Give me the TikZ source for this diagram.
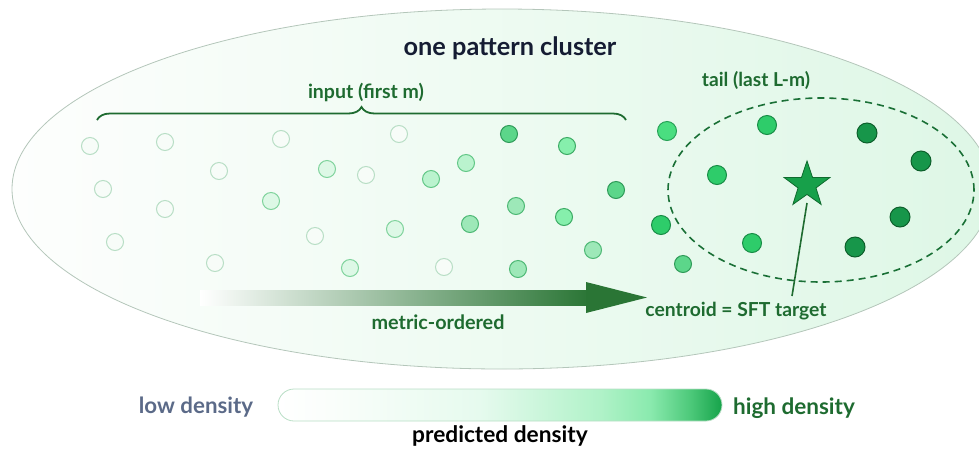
\documentclass[tikz,border=0pt]{standalone}
\usepackage{fontspec}
\setmainfont{Lato}
\usetikzlibrary{shapes.geometric,decorations.pathreplacing}
\definecolor{dkgreen}{HTML}{1E6B30}
\definecolor{navy}{HTML}{151C33}
\definecolor{slate}{HTML}{5B6A88}
\definecolor{ellstroke}{HTML}{B4C6BA}
\definecolor{ellL}{HTML}{FDFEFD}
\definecolor{ellR}{HTML}{DEF7E6}
\definecolor{arrowdk}{HTML}{2A7535}
\definecolor{barA}{HTML}{FAFEFB}
\definecolor{barB}{HTML}{E6FAEE}
\definecolor{barC}{HTML}{B0F2C8}
\definecolor{barD}{HTML}{8AEAAE}
\definecolor{barE}{HTML}{4DC97A}
\definecolor{barF}{HTML}{16A34A}
\pgfdeclarehorizontalshading{densbar}{100bp}{
  color(0bp)=(white); color(25bp)=(white); color(31bp)=(barA);
  color(47.7bp)=(barB); color(61.3bp)=(barC);
  color(66.9bp)=(barD); color(71.4bp)=(barE);
  color(75bp)=(barF); color(100bp)=(barF)}
\definecolor{ocA}{HTML}{B8DEC5}\definecolor{ofA}{HTML}{F7FCF8}
\definecolor{ocB}{HTML}{7FD39C}\definecolor{ofB}{HTML}{DDF8E6}
\definecolor{ocC}{HTML}{62C786}\definecolor{ofC}{HTML}{BAF3CE}
\definecolor{ocD}{HTML}{4DB874}\definecolor{ofD}{HTML}{9DE8B8}
\definecolor{ocE}{HTML}{3CAA64}\definecolor{ofE}{HTML}{86EFAC}
\definecolor{ocF}{HTML}{2E9A58}\definecolor{ofF}{HTML}{5CD68A}
\definecolor{ocG}{HTML}{27A156}\definecolor{ofG}{HTML}{4ADE80}
\definecolor{ocH}{HTML}{178C45}\definecolor{ofH}{HTML}{2ECC6A}
\definecolor{ocI}{HTML}{0D5F2B}\definecolor{ofI}{HTML}{17964A}
\definecolor{starfill}{HTML}{17A04A}\definecolor{stardraw}{HTML}{0F6B2E}
\definecolor{dashcol}{HTML}{1A7036}
\tikzset{
  dotbase/.style={circle, inner sep=0pt, minimum size=17pt, line width=1pt},
  lv0/.style={dotbase, draw=ocA, fill=ofA},
  lv1/.style={dotbase, draw=ocB, fill=ofB},
  lv2/.style={dotbase, draw=ocC, fill=ofC},
  lv3/.style={dotbase, draw=ocD, fill=ofD},
  lv4/.style={dotbase, draw=ocE, fill=ofE},
  lv5/.style={dotbase, draw=ocF, fill=ofF},
  lv6/.style={dotbase, minimum size=19pt, draw=ocG, fill=ofG},
  lv7/.style={dotbase, minimum size=19pt, draw=ocH, fill=ofH},
  lv8/.style={dotbase, minimum size=20pt, draw=ocI, fill=ofI},
  lbl/.style={font=\bfseries, inner sep=0pt},
}
\begin{document}
\begin{tikzpicture}[x=1pt,y=-1pt]
\useasboundingbox (0,0) rectangle (979,448);
\clip (0,0) rectangle (979,448);
% big cluster ellipse
\shade[left color=ellL, right color=ellR] (502,189) ellipse [x radius=490pt, y radius=180pt];
\draw[ellstroke, line width=0.8pt] (502,189) ellipse [x radius=490pt, y radius=180pt];
\node[lbl, text=navy, font=\bfseries\fontsize{25.3}{30}\selectfont] (title) at (510,48) {one pattern cluster};
% input brace
\coordinate (bl) at (97,120);
\coordinate (br) at (626,120);
\draw[dkgreen, line width=1.8pt, decorate, decoration={brace, amplitude=13pt}] (bl) -- (br);
\node[lbl, text=dkgreen, font=\bfseries\fontsize{19.5}{23}\selectfont] (inlab) at (366,92) {input (first m)};
% tail
\node[lbl, text=dkgreen, font=\bfseries\fontsize{19.2}{23}\selectfont] (taillab) at (756,80) {tail (last L-m)};
\draw[dashcol, line width=1.6pt, dash pattern=on 7pt off 5pt] (821,190) ellipse [x radius=153pt, y radius=92pt];
% dots
\foreach \x/\y/\s [count=\i] in {
  90/146/lv0, 165/142/lv0, 281/139/lv0, 219/171/lv0, 103/189/lv0, 165/209/lv0,
  115/242/lv0, 215/263/lv0, 315/236/lv0, 399/134/lv0, 366/175/lv0, 444/267/lv0,
  327/169/lv1, 271/201/lv1, 350/268/lv1, 395/229/lv1,
  431/179/lv2, 466/163/lv2,
  516/206/lv3, 470/224/lv3, 593/250/lv3, 518/269/lv3,
  567/146/lv4, 564/217/lv4,
  509/134/lv5, 616/190/lv5, 683/264/lv5,
  667/131/lv6,
  767/125/lv7, 717/175/lv7, 661/225/lv7, 752/243/lv7,
  867/133/lv8, 921/161/lv8, 900/217/lv8, 855/247/lv8}
  \node[\s] (d\i) at (\x,\y) {};
% metric-ordered arrow
\shade[left color=white, right color=arrowdk] (200,290) rectangle (590,305);
\fill[arrowdk] (586,282) -- (647,297.5) -- (586,313) -- cycle;
\node[lbl, text=dkgreen, font=\bfseries\fontsize{19.8}{23}\selectfont] (molab) at (438,322) {metric-ordered};
% centroid
\coordinate (ctop) at (807,203);
\coordinate (cbot) at (792,296);
\draw[dkgreen, line width=1.6pt] (ctop) -- (cbot);
\node[star, star points=5, star point ratio=2.55, minimum size=48pt, inner sep=0pt, fill=starfill, draw=stardraw, line width=0.8pt] (centroid) at (807,185) {};
\node[lbl, text=dkgreen, font=\bfseries\fontsize{19.3}{23}\selectfont] (clab) at (736,311) {centroid = SFT target};
% density bar
\shade[shading=densbar, draw=ocA, line width=0.8pt, rounded corners=16pt] (278,389) rectangle (722,421);
\node[lbl, text=slate, font=\bfseries\fontsize{22.3}{26}\selectfont] (low) at (196,407) {low density};
\node[lbl, text=dkgreen, font=\bfseries\fontsize{22.5}{26}\selectfont] (high) at (794,408) {high density};
\node[lbl, text=black, font=\bfseries\fontsize{22.7}{26}\selectfont, anchor=base] (pd) at (500,442) {predicted density};
\end{tikzpicture}
\end{document}
